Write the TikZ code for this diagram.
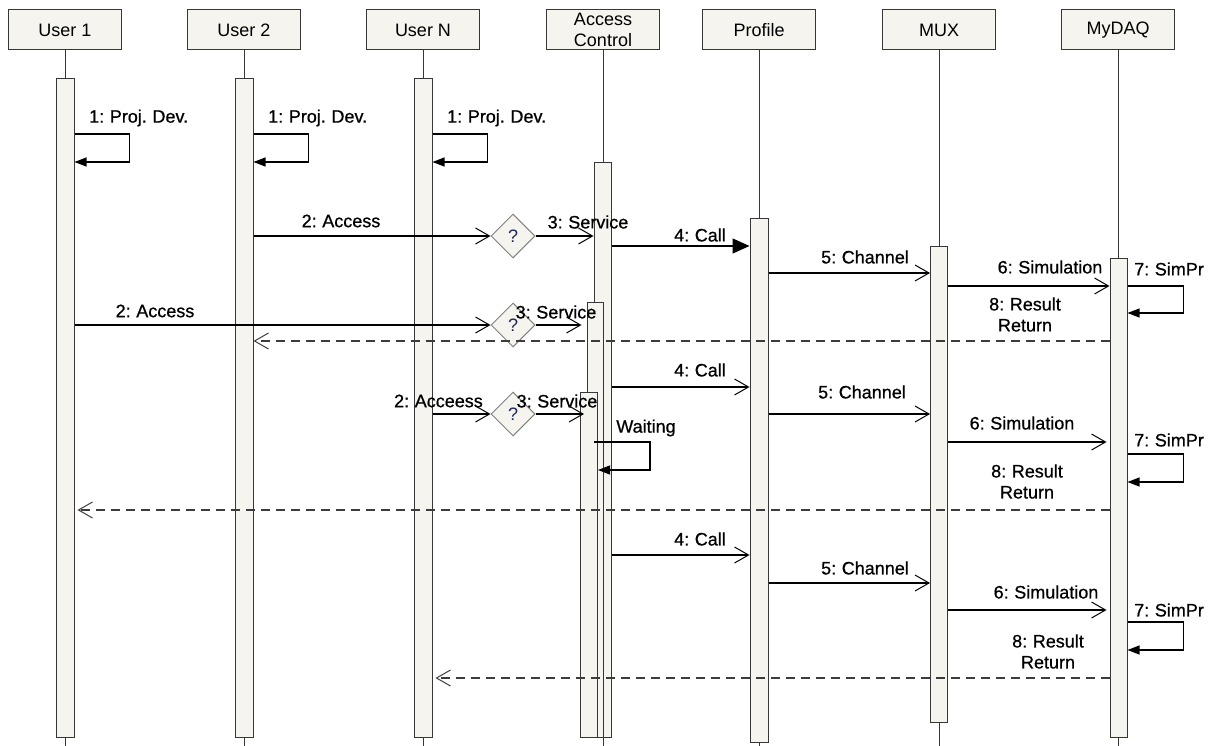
\documentclass[tikz,border=0pt]{standalone}
\usepackage{fontspec}
\setmainfont{Liberation Sans}
\newfontfamily\lblfont[FakeBold=0.7]{Liberation Sans}
\newcommand\lblsetup{\lblfont\fontsize{18}{21}\selectfont\spaceskip 0.22em plus 0.05em\relax}
\usetikzlibrary{arrows.meta,shapes.geometric}
\definecolor{boxfill}{RGB}{245,244,239}
\definecolor{boxline}{RGB}{55,55,55}
\definecolor{dashcol}{RGB}{60,60,60}
\definecolor{qblue}{RGB}{30,40,90}
\begin{document}
\begin{tikzpicture}[x=1pt,y=-1pt,
  head/.style={draw=boxline, fill=boxfill, line width=1pt, minimum width=113pt, minimum height=40pt, inner sep=0pt, font=\fontsize{18}{21}\selectfont},
  hdtext/.style={inner sep=0pt, align=center, font=\fontsize{18}{21}\selectfont},
  bar/.style={draw=boxline, fill=boxfill, line width=1pt, minimum width=18pt, anchor=north, inner sep=0pt},
  life/.style={draw=boxline, line width=1pt},
  msg/.style={line width=1.2pt, -{Straight Barb[length=14pt,width=16pt,line width=1pt]}},
  call/.style={line width=1.3pt, -{Triangle[length=17pt,width=15pt]}},
  selfloop/.style={line width=1.2pt, -{Triangle[length=12pt,width=9pt]}},
  ret/.style={line width=1.4pt, draw=dashcol, dash pattern=on 9pt off 6pt, -{Straight Barb[length=14pt,width=16pt,line width=1pt]}},
  lbl/.style={font=\lblsetup, inner sep=0pt, align=center},
  dia/.style={diamond, draw=gray, fill=boxfill, line width=1pt, minimum width=44pt, minimum height=44pt, inner sep=0pt, font=\fontsize{18}{21}\selectfont, text=qblue}
]
\useasboundingbox (0,0) rectangle (1212,746);
\coordinate (bottom) at (0,746);

% headers
\node[head] (h1) at (65,30) {User 1};
\node[head] (h2) at (244,30) {User 2};
\node[head] (h3) at (423,30) {User N};
\node[head] (h4) at (603,30) {};
\node[hdtext] (h4t) at (h4) {Access\\Control};
\node[head] (h5) at (759,30) {Profile};
\node[head] (h6) at (939,30) {MUX};
\node[head] (h7) at (1118,30) {MyDAQ};

% lifelines
\foreach \h in {h1,h2,h3,h4,h5,h6,h7}
  \draw[life] (\h.south) -- (\h.south |- bottom);

% activation bars
\node[bar, minimum height=659pt] (b1) at (65,78) {};
\node[bar, minimum height=659pt] (b2) at (244,78) {};
\node[bar, minimum height=659pt] (b3) at (423,78) {};
\node[bar, minimum width=17pt, minimum height=575pt] (a1) at (602.5,162) {};
\node[bar, minimum width=16pt, minimum height=435pt] (a2) at (595,302) {};
\node[bar, minimum width=17pt, minimum height=345pt] (a3) at (589,392) {};
\node[bar, minimum height=524pt] (p) at (759,218) {};
\node[bar, minimum width=17pt, minimum height=476pt] (m) at (939,246) {};
\node[bar, minimum width=17pt, minimum height=479pt] (q) at (1118.5,258) {};

% 1: Proj. Dev. self loops
\draw[selfloop] (b1.east |- 0,134) -- ++(55,0) -- ++(0,28) -- (b1.east |- 0,162);
\draw[selfloop] (b2.east |- 0,134) -- ++(55,0) -- ++(0,28) -- (b2.east |- 0,162);
\draw[selfloop] (b3.east |- 0,134) -- ++(55,0) -- ++(0,28) -- (b3.east |- 0,162);
\node[lbl, anchor=west] (l1a) at (89,118) {1: Proj. Dev.};
\node[lbl, anchor=west] (l1b) at (268,118) {1: Proj. Dev.};
\node[lbl, anchor=west] (l1c) at (447,118) {1: Proj. Dev.};

% diamonds
\node[dia] (d1) at (513,236) {?};
\node[dia] (d2) at (513,325) {?};
\node[dia] (d3) at (513,414) {?};

% row 1
\draw[msg] (b2.east |- d1) -- (d1.west);
\draw[msg] (d1.east) -- (a1.west |- d1);
\draw[call] (a1.east |- 0,246) -- (p.west |- 0,246);
\draw[msg] (p.east |- 0,273) -- (m.west |- 0,273);
\draw[msg] (m.east |- 0,286) -- (q.west |- 0,286);
\draw[selfloop] (q.east |- 0,286) -- ++(56,0) -- ++(0,27) -- (q.east |- 0,313);
\draw[ret] (q.west |- 0,341) -- (b2.east |- 0,341);
\node[lbl] (l2a) at (341,221) {2: Access};
\node[lbl] (l3a) at (588,222) {3: Service};
\node[lbl] (l4a) at (700,235) {4: Call};
\node[lbl] (l5a) at (865,257) {5: Channel};
\node[lbl] (l6a) at (1050,267) {6: Simulation};
\node[lbl, anchor=west] (l7a) at (1134,269) {7: SimPr};
\node[lbl] (l8a) at (1025,314.5) {8: Result\\Return};

% row 2
\draw[msg] (b1.east |- d2) -- (d2.west);
\draw[msg, shorten >=5pt] (d2.east) -- (a2.west |- d2);
\draw[msg] (a1.east |- 0,387) -- (p.west |- 0,387);
\draw[msg] (p.east |- 0,414) -- (m.west |- 0,414);
\draw[msg, shorten >=3pt] (m.east |- 0,442) -- (q.west |- 0,442);
\draw[selfloop] (q.east |- 0,454) -- ++(56,0) -- ++(0,28) -- (q.east |- 0,482);
\draw[ret, shorten >=3pt] (q.west |- 0,510) -- (b1.east |- 0,510);
\node[lbl] (l2b) at (155,311) {2: Access};
\node[lbl] (l3b) at (556,312) {3: Service};
\node[lbl] (l4b) at (700,370) {4: Call};
\node[lbl] (l5b) at (862,392) {5: Channel};
\node[lbl] (l6b) at (1022,423) {6: Simulation};
\node[lbl, anchor=west] (l7b) at (1134,440) {7: SimPr};
\node[lbl] (l8b) at (1027,481.5) {8: Result\\Return};

% row 3
\draw[msg] (b3.east |- d3) -- (d3.west);
\draw[msg, shorten >=-4pt] (d3.east) -- (a3.west |- d3);
\coordinate (w0) at (594,442);
\draw[selfloop] (w0) -- ++(56,0) -- ++(0,28) -- (a3.east |- 0,470);
\draw[msg] (a1.east |- 0,555) -- (p.west |- 0,555);
\draw[msg] (p.east |- 0,583) -- (m.west |- 0,583);
\draw[msg, shorten >=3pt] (m.east |- 0,610) -- (q.west |- 0,610);
\draw[selfloop] (q.east |- 0,622) -- ++(56,0) -- ++(0,28) -- (q.east |- 0,650);
\draw[ret, shorten >=3pt] (q.west |- 0,678) -- (b3.east |- 0,678);
\node[lbl, anchor=east] (l2c) at (483,401) {2: Acceess};
\node[lbl] (l3c) at (557,401) {3: Service};
\node[lbl] (lw) at (646,428) {Waiting};
\node[lbl] (l4c) at (700,539) {4: Call};
\node[lbl] (l5c) at (865,568) {5: Channel};
\node[lbl] (l6c) at (1046,592) {6: Simulation};
\node[lbl, anchor=west] (l7c) at (1134,610) {7: SimPr};
\node[lbl] (l8c) at (1048,651.5) {8: Result\\Return};
\end{tikzpicture}
\end{document}
